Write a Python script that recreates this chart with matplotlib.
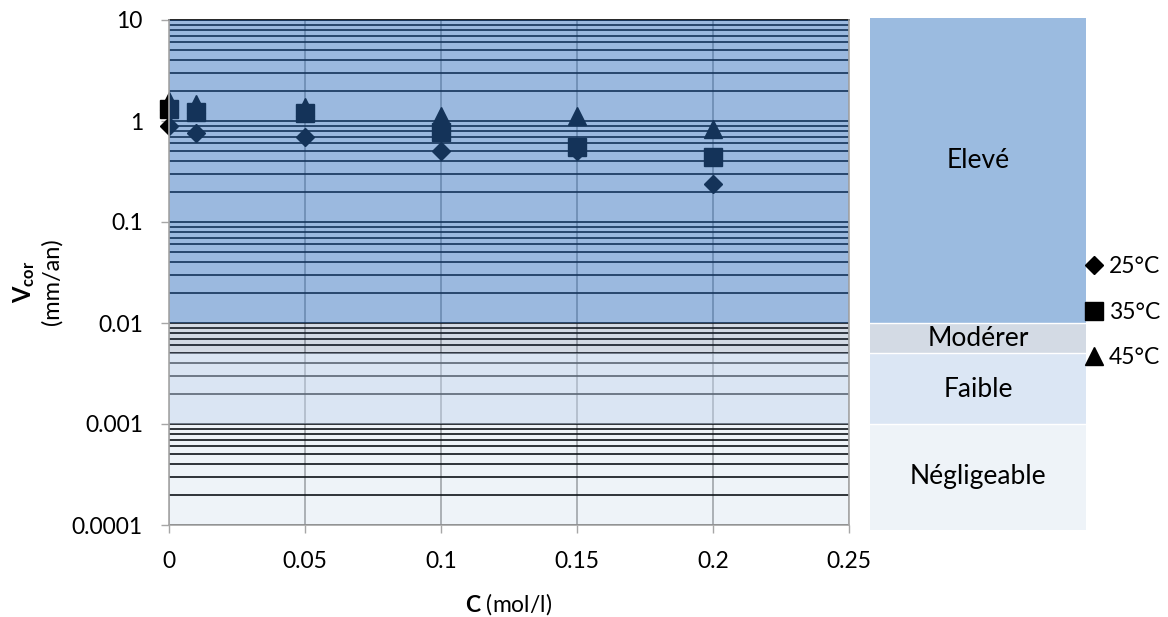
import numpy as np
import matplotlib
matplotlib.use('Agg')
import matplotlib.pyplot as plt
from matplotlib.ticker import FixedLocator, LogLocator, NullFormatter

plt.rcParams['font.family'] = ['Lato', 'DejaVu Sans']
plt.rcParams['mathtext.fontset'] = 'custom'
plt.rcParams['mathtext.rm'] = 'Lato'
plt.rcParams['mathtext.bf'] = 'Lato:bold'
plt.rcParams['mathtext.it'] = 'Lato:italic'

# donnees
conc = [0, 0.01, 0.05, 0.1, 0.15, 0.2]
v_25 = [0.89, 0.76, 0.69, 0.50, 0.50, 0.24]
v_35 = [1.31, 1.23, 1.19, 0.78, 0.55, 0.445]
v_45 = [1.58, 1.47, 1.38, 1.12, 1.12, 0.83]
series_labels = ['25°C', '35°C', '45°C']

x_ticks = [0, 0.05, 0.1, 0.15, 0.2, 0.25]
x_labels = ['0', '0.05', '0.1', '0.15', '0.2', '0.25']
y_ticks = [1e-4, 1e-3, 1e-2, 0.1, 1, 10]
y_labels = ['0.0001', '0.001', '0.01', '0.1', '1', '10']

# zones de corrosion
zones = ['Négligeable', 'Faible', 'Modérer', 'Elevé']
zone_low = [1e-4, 1e-3, 5e-3, 1e-2]
zone_high = [1e-3, 5e-3, 1e-2, 10]
zone_text_y = [3e-4, 2.2e-3, 7.1e-3, 0.41]

# couleur opaque (panneau) et voile transparent (graphique)
zone_colors = ['#EEF3F8', '#DBE6F4', '#D3DAE4', '#9BBBE0']
zone_veil = [('#759EC8', 0.12), ('#B7CDE9', 0.5), ('#506C94', 0.25), ('#2C6DBD', 0.475)]

W, H = 1168, 617
fig = plt.figure(figsize=(W / 100, H / 100), dpi=100)
ax = fig.add_axes([169 / W, 92 / H, 680 / W, 505 / H])

ax.set_yscale('log')
ax.set_xlim(0, 0.25)
ax.set_ylim(1e-4, 10)

l25, = ax.plot(conc, v_25, 'D', color='black', ms=9, clip_on=False, zorder=2)
l35, = ax.plot(conc, v_35, 's', color='black', ms=13.5, clip_on=False, zorder=2)
l45, = ax.plot(conc, v_45, '^', color='black', ms=12.5, clip_on=False, zorder=2)

for lo, hi, (c, a) in zip(zone_low, zone_high, zone_veil):
    ax.axhspan(lo, hi, color=c, alpha=a, lw=0, zorder=3)

ax.set_xticks(x_ticks)
ax.set_xticklabels(x_labels)
ax.yaxis.set_major_locator(FixedLocator(y_ticks))
ax.set_yticklabels(y_labels)
ax.yaxis.set_minor_locator(LogLocator(base=10, subs=np.arange(2, 10)))
ax.yaxis.set_minor_formatter(NullFormatter())

ax.set_axisbelow(True)
ax.grid(True, axis='y', which='both', color='black', lw=1.2)
ax.grid(True, axis='x', which='major', color='#A6A6A6', lw=1.2)

ax.tick_params(axis='both', which='major', direction='out', length=5.8, width=1,
               color='#A6A6A6', labelsize=16.5, pad=13)
ax.tick_params(axis='y', which='minor', length=0)

for side in ['left', 'bottom', 'right']:
    ax.spines[side].set_color('#A6A6A6')
    ax.spines[side].set_linewidth(1.2)
    ax.spines[side].set_zorder(4)
ax.spines['top'].set_color('black')
ax.spines['top'].set_linewidth(1.2)
ax.spines['top'].set_zorder(2.9)

ax.set_xlabel('$\\mathbf{C}$ (mol/l)', fontsize=16.5, labelpad=14)
ax.set_ylabel('$\\mathbf{V_{cor}}$\n(mm/an)', fontsize=17, linespacing=1.25)
ax.yaxis.set_label_coords(-0.156, 0.481)

# panneau des zones a droite
ax2 = fig.add_axes([870 / W, 87 / H, 216 / W, 512 / H])
ax2.set_yscale('log')
ax2.set_ylim(8.93e-5, 10.47)
ax2.set_xlim(0, 1)
ymin, ymax = ax2.get_ylim()
for i, (name, lo, hi, c, ty) in enumerate(zip(zones, zone_low, zone_high, zone_colors, zone_text_y)):
    lo = ymin if i == 0 else lo
    hi = ymax if i == len(zones) - 1 else hi
    ax2.axhspan(lo, hi, color=c, lw=0)
    if i > 0:
        ax2.axhline(lo, color='white', lw=1)
    ax2.text(0.5, ty, name, ha='center', va='center', fontsize=19, color='black')
ax2.axis('off')

fig.legend([l25, l35, l45], series_labels, loc='upper left',
           bbox_to_anchor=(1087 / W, 1 - 256 / H), frameon=False, fontsize=16.5,
           handlelength=0.6, handletextpad=0.35, labelspacing=1.08,
           borderpad=0, borderaxespad=0, markerscale=1.0)

fig.savefig('out.png', dpi=100)
